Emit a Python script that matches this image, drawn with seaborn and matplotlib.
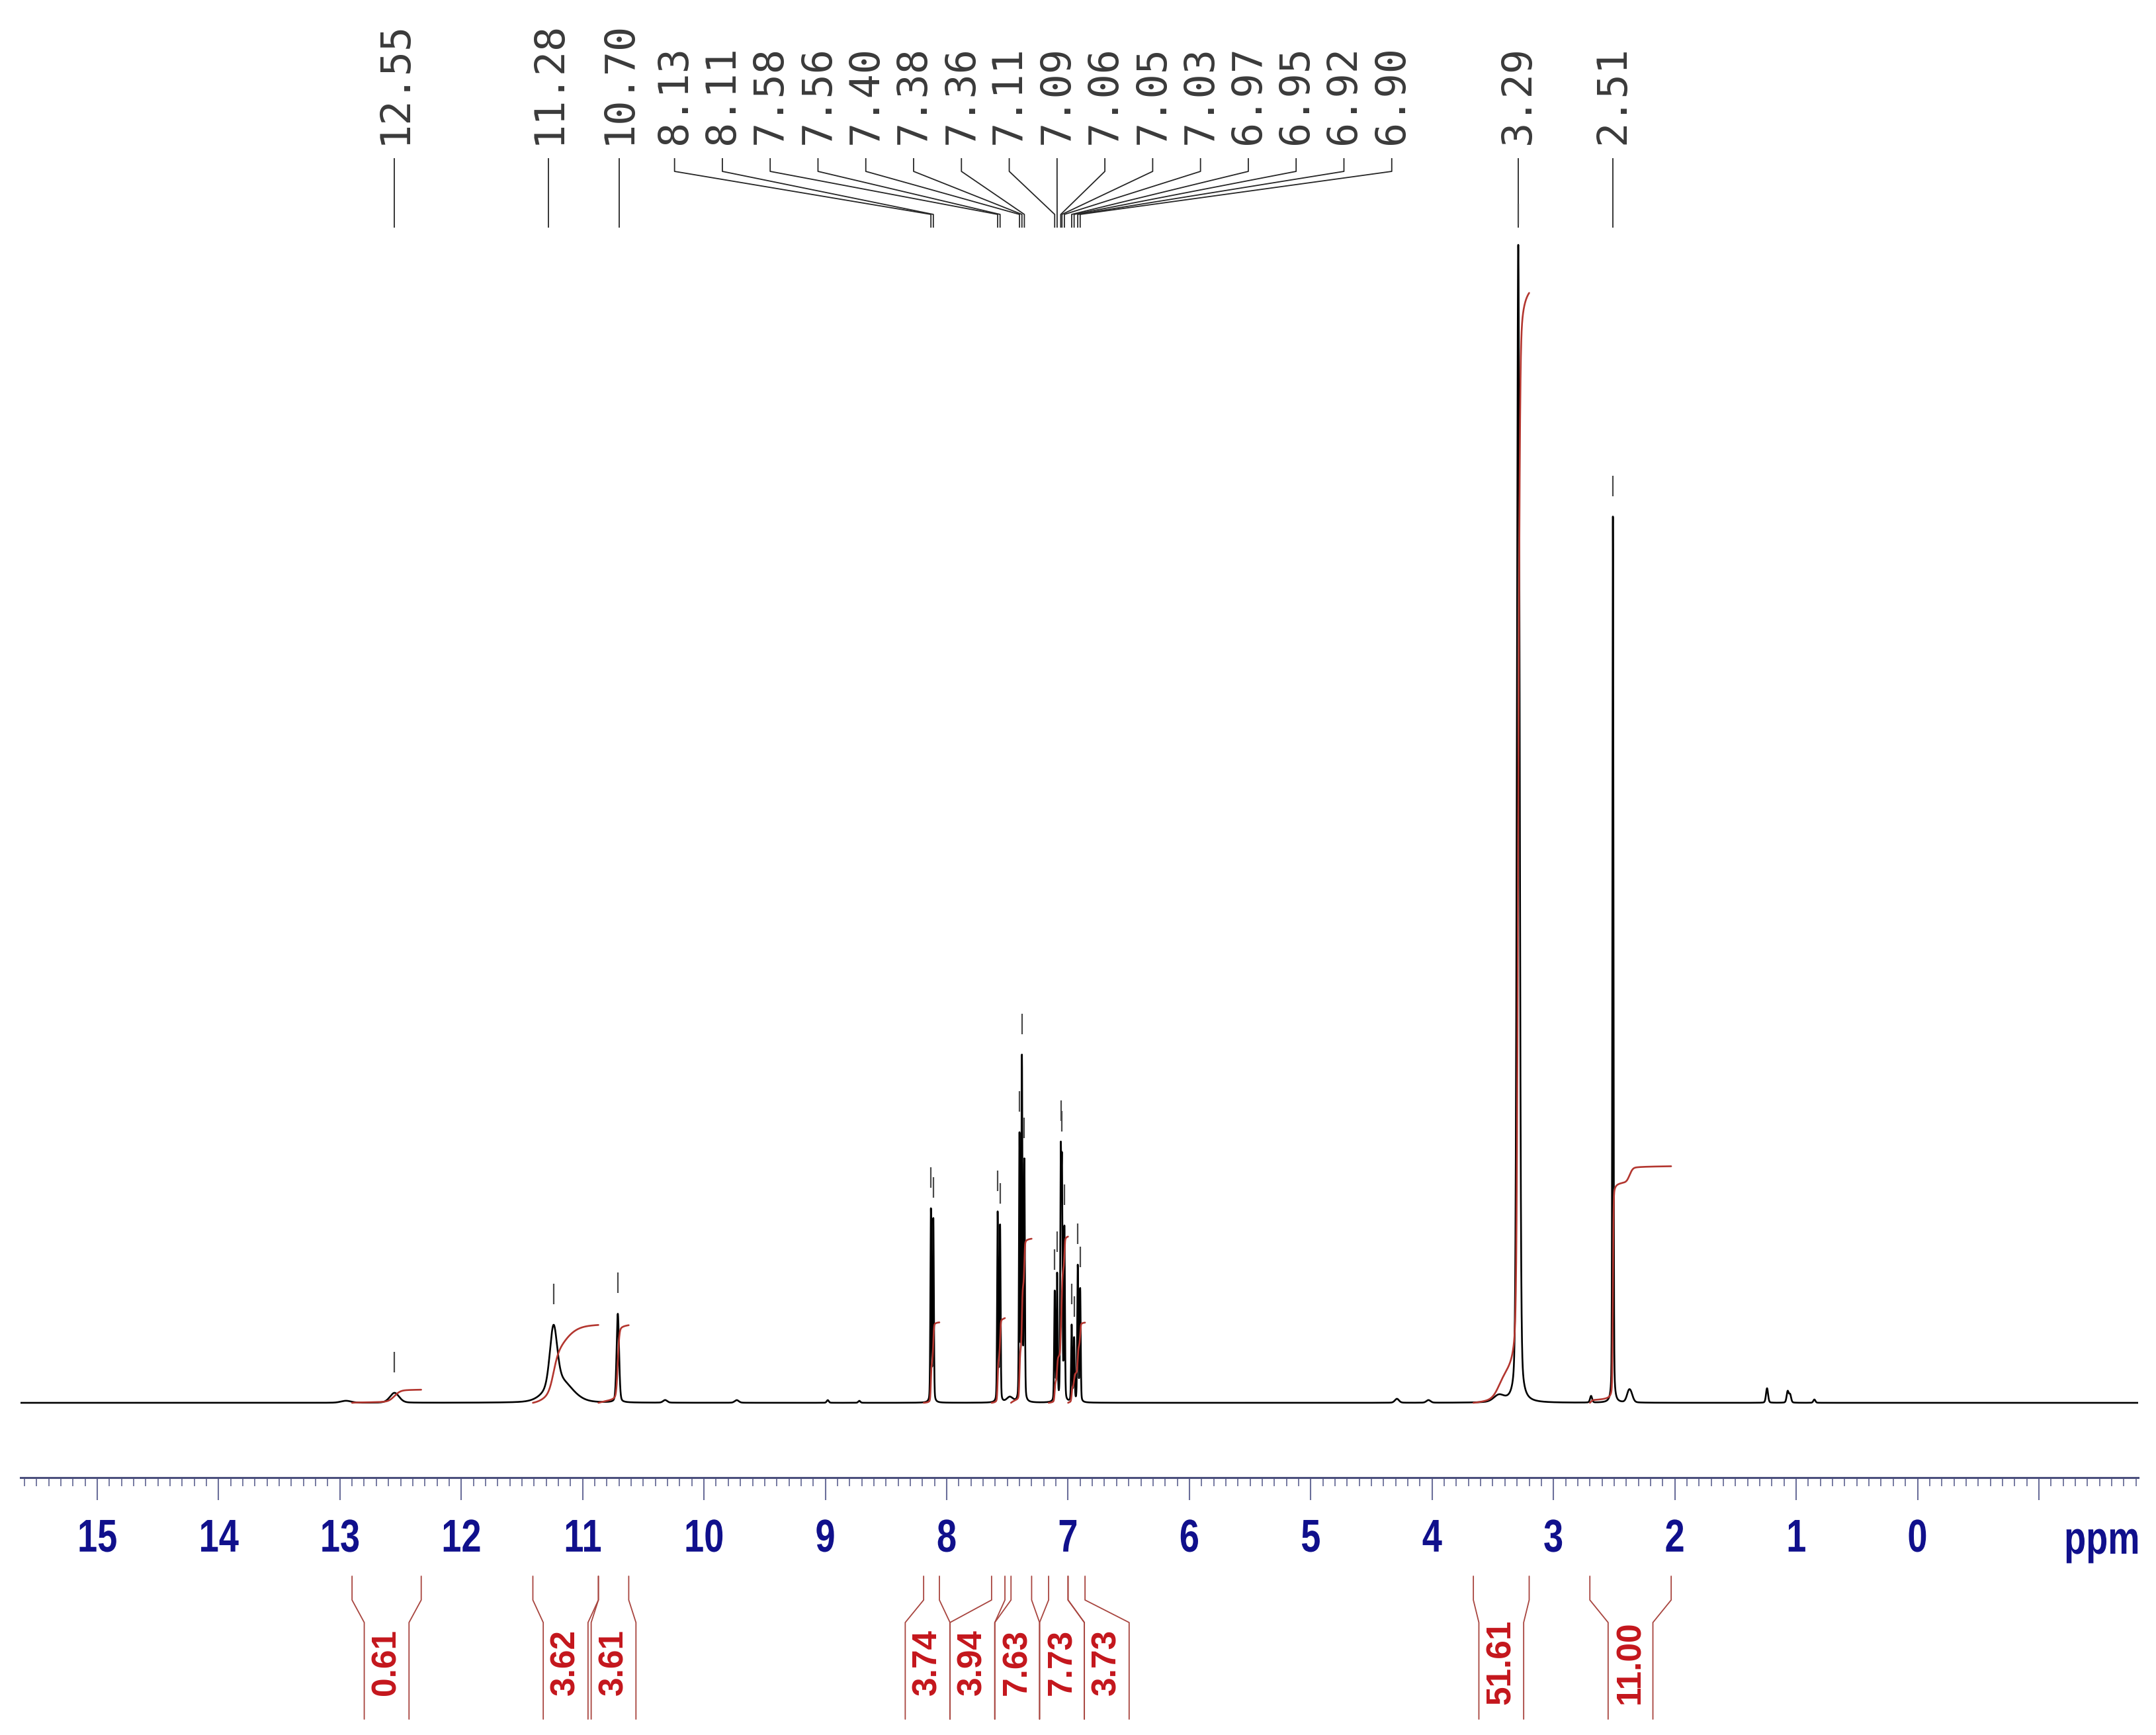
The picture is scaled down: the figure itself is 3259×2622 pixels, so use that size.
import numpy as np
import pandas as pd
import matplotlib
matplotlib.use("Agg")
import matplotlib.pyplot as plt
import matplotlib.patheffects as pe
from matplotlib.transforms import Affine2D
import seaborn as sns

# ---------------- data ----------------
# spectrum lines (ppm), heights (display units above baseline), half widths (ppm)
peak_ppm = [12.95, 12.55, 11.24, 11.19, 10.71, 10.32, 9.73, 8.98, 8.72,
            8.13, 8.11, 7.58, 7.56, 7.48, 7.40, 7.38, 7.36,
            7.11, 7.09, 7.06, 7.05, 7.03, 6.97, 6.95, 6.92, 6.90,
            4.29, 4.03, 3.45, 3.29, 2.69, 2.51, 2.38, 2.36, 1.24, 1.07, 1.05, 0.85]
peak_height = [3, 15, 88, 34, 134, 4, 4, 4, 3,
               290, 275, 285, 265, 8, 400, 515, 360,
               165, 190, 355, 335, 260, 115, 95, 205, 170,
               6, 4, 10, 1750, 10, 1340, 14, 10, 22, 17, 12, 5]
peak_hwhm = [0.05, 0.045, 0.035, 0.12, 0.012, 0.02, 0.02, 0.01, 0.01,
             0.005, 0.005, 0.005, 0.005, 0.03, 0.005, 0.005, 0.005,
             0.005, 0.005, 0.005, 0.005, 0.005, 0.005, 0.005, 0.005, 0.005,
             0.02, 0.02, 0.05, 0.013, 0.01, 0.005, 0.02, 0.02, 0.01, 0.01, 0.01, 0.01]
lorentz_fraction = 0.25

# peak-pick labels shown on top
pick_labels = [12.55, 11.28, 10.70, 8.13, 8.11, 7.58, 7.56, 7.40, 7.38, 7.36,
               7.11, 7.09, 7.06, 7.05, 7.03, 6.97, 6.95, 6.92, 6.90, 3.29, 2.51]

# integration regions (ppm) and values
integral_hi = [12.90, 11.41, 10.87, 8.19, 7.63, 7.47, 7.16, 7.00, 3.66, 2.70]
integral_lo = [12.33, 10.87, 10.62, 8.06, 7.52, 7.30, 7.00, 6.86, 3.20, 2.03]
integral_values = [0.61, 3.62, 3.61, 3.74, 3.94, 7.63, 7.73, 3.73, 51.61, 11.00]

major_ticks = list(range(15, -2, -1))
major_tick_labels = [str(t) for t in range(15, -1, -1)] + [""]
x_limits = (15.632, -1.818)

# ---------------- style ----------------
sns.set_style("white")
plt.rcParams["font.family"] = ["DejaVu Sans"]


class Narrow(pe.AbstractPathEffect):
    """Horizontally condense glyphs about their centre (narrow bold look)."""
    def __init__(self, sx=0.8):
        super().__init__()
        self.sx = sx

    def draw_path(self, renderer, gc, tpath, affine, rgbFace=None):
        ext = tpath.get_extents()
        cx = (ext.x0 + ext.x1) / 2
        t = Affine2D().translate(-cx, 0).scale(self.sx, 1).translate(cx, 0)
        renderer.draw_path(gc, tpath, t + affine, rgbFace)


W, H = 3259, 2622
fig = plt.figure(figsize=(W / 100, H / 100), dpi=100)
fig.patch.set_facecolor("white")
ax = fig.add_axes([31 / W, (H - 2233) / H, 3201 / W, 2233 / H])
ax.set_facecolor("white")

BASE_PX = 2120
def ypx(p):
    return BASE_PX - p

# ---------------- spectrum ----------------
xs = np.linspace(x_limits[0], x_limits[1], 40000)
ys = np.zeros_like(xs)
for c, h, w in zip(peak_ppm, peak_height, peak_hwhm):
    u = (xs - c) / w
    ys += h * (lorentz_fraction / (1.0 + u ** 2)
               + (1 - lorentz_fraction) * np.exp(-np.log(2) * u ** 2))
spec = pd.DataFrame({"ppm": xs, "intensity": ys})
sns.lineplot(data=spec, x="ppm", y="intensity", ax=ax, color="black",
             linewidth=1.9, estimator=None, sort=False, zorder=3)

# ---------------- integral curves ----------------
INT_SCALE = 32.5
for hi, lo, val in zip(integral_hi, integral_lo, integral_values):
    m = (xs <= hi) & (xs >= lo)
    cum = np.cumsum(ys[m])
    cum = cum / cum[-1] * val * INT_SCALE
    dfi = pd.DataFrame({"ppm": xs[m], "integral": cum})
    sns.lineplot(data=dfi, x="ppm", y="integral", ax=ax, color="#b3362f",
                 linewidth=1.9, estimator=None, sort=False, zorder=4)

# ---------------- label spreading helper ----------------
def spread(vals, gap):
    groups = [[v] for v in vals]
    def layout(g):
        c = float(np.mean(g)); n = len(g)
        return [c + ((n - 1) / 2 - k) * gap for k in range(n)]
    merged = True
    while merged:
        merged = False
        for i in range(len(groups) - 1):
            a = layout(groups[i]); b = layout(groups[i + 1])
            if a[-1] - b[0] < gap - 1e-9:
                groups[i] = groups[i] + groups[i + 1]
                del groups[i + 1]
                merged = True
                break
    out = []
    for g in groups:
        out += layout(g)
    return out

# ---------------- peak pick labels (top) ----------------
lab_pos = spread(pick_labels, 0.394)
for v, p in zip(pick_labels, lab_pos):
    ax.text(p, ypx(218), f"{v:.2f}", rotation=90, ha="center", va="bottom",
            fontsize=44.6, family="DejaVu Sans Mono", color="#3a3a3a", clip_on=False)
    ax.plot([p, p, v, v], [ypx(239), ypx(259), ypx(324), ypx(344)],
            color="#262626", lw=1.3, clip_on=False, solid_capstyle="butt")
    i = int(np.argmin(np.abs(xs - v)))
    step = 1 if (i + 1 < len(ys) and ys[i + 1] > ys[i]) else -1
    while 0 < i + step < len(ys) and ys[i + step] > ys[i]:
        i += step
    top = ys[i]
    ax.plot([xs[i], xs[i]], [top + 31, top + 62], color="#4a4a4a", lw=1.6,
            clip_on=False, solid_capstyle="butt")

# ---------------- integration brackets (bottom) ----------------
BOX = 0.369
centers = [(a + b) / 2 for a, b in zip(integral_hi, integral_lo)]
box_c = spread(centers, BOX)
rc = "#a8453f"
for hi, lo, val, bc in zip(integral_hi, integral_lo, integral_values, box_c):
    yy = [ypx(2382), ypx(2418), ypx(2452), ypx(2598)]
    ax.plot([hi, hi, bc + BOX / 2, bc + BOX / 2], yy, color=rc, lw=1.3, clip_on=False)
    ax.plot([lo, lo, bc - BOX / 2, bc - BOX / 2], yy, color=rc, lw=1.3, clip_on=False)
    ax.text(bc, ypx(2512), f"{val:.2f}", rotation=90, ha="center", va="center",
            fontsize=37, family="Liberation Sans", fontweight="bold",
            color="#c4161c", clip_on=False)

# ---------------- axes / ticks ----------------
ax.set_xlim(*x_limits)
ax.set_ylim(ypx(2233), ypx(0))
ax.set_xticks(major_ticks)
ax.set_xticklabels(major_tick_labels)
ax.set_xticks(np.round(np.arange(-1.8, 15.61, 0.1), 1), minor=True)
ax.set_yticks([])
ax.set_xlabel("")
ax.set_ylabel("")
for s in ["top", "left", "right"]:
    ax.spines[s].set_visible(False)
ax.spines["bottom"].set_color("#4b4f7d")
ax.spines["bottom"].set_linewidth(2.2)
ax.tick_params(axis="x", which="major", direction="out", length=24.5, width=1.5,
               color="#6b6f9a", pad=20, labelsize=50, labelcolor="#10108c", bottom=True)
ax.tick_params(axis="x", which="minor", direction="out", length=9.4, width=1.3,
               color="#6b6f9a", bottom=True)
for lbl in ax.get_xticklabels():
    lbl.set_family("Liberation Sans")
    lbl.set_fontweight("bold")
    lbl.set_path_effects([Narrow(0.78)])
ax.text(-1.52, ypx(2348), "ppm", ha="center", va="baseline", fontsize=50,
        family="Liberation Sans", fontweight="bold", color="#10108c", clip_on=False,
        path_effects=[Narrow(0.78)])

fig.savefig("out.png", dpi=100, facecolor="white")
